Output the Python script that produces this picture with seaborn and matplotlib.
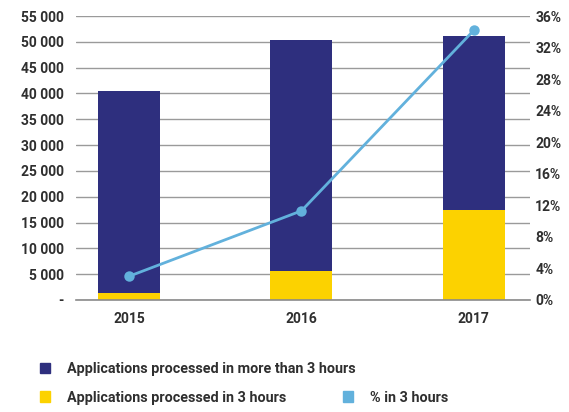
import matplotlib
matplotlib.use("Agg")
import matplotlib.pyplot as plt
from matplotlib.patches import Patch
import seaborn as sns
import pandas as pd

# Data
years = ["2015", "2016", "2017"]
total_apps = [40500, 50400, 51200]
apps_in_3h = [1400, 5600, 17400]
pct_in_3h = [3.0, 11.3, 34.2]

left_ticks = [0, 5000, 10000, 15000, 20000, 25000, 30000, 35000, 40000, 45000, 50000, 55000]
left_labels = ["-", "5 000", "10 000", "15 000", "20 000", "25 000", "30 000",
               "35 000", "40 000", "45 000", "50 000", "55 000"]
right_ticks = [0, 4, 8, 12, 16, 20, 24, 28, 32, 36]
right_labels = [f"{t}%" for t in right_ticks]

navy = "#2e2f7e"
yellow = "#fcd200"
blue = "#62b1dc"
text_col = "#2f2f2f"

df = pd.DataFrame({"year": years, "total": total_apps, "in3": apps_in_3h, "pct": pct_in_3h})

sns.set_style("white")
plt.rcParams["font.family"] = ["Roboto", "DejaVu Sans"]
plt.rcParams["font.weight"] = "semibold"

fig = plt.figure(figsize=(5.69, 4.12), dpi=100)
ax = fig.add_axes([0.134, 0.272, 0.797, 0.689])

# stacked bars: full total in navy, then the 3-hour part in yellow on top of it
sns.barplot(data=df, x="year", y="total", color=navy, width=0.36, ax=ax,
            saturation=1, linewidth=0)
sns.barplot(data=df, x="year", y="in3", color=yellow, width=0.36, ax=ax,
            saturation=1, linewidth=0)

ax.set_ylim(0, 55000)
ax.set_yticks(left_ticks)
ax.set_yticklabels(left_labels)
ax.yaxis.grid(True, color="#9a9a9a", linewidth=1)
ax.set_axisbelow(True)
for s in ["top", "right", "left"]:
    ax.spines[s].set_visible(False)
ax.spines["bottom"].set_color("#8a8a8a")
ax.spines["bottom"].set_linewidth(1.2)
ax.tick_params(axis="y", length=0, pad=9, labelsize=10, labelcolor=text_col)
ax.tick_params(axis="x", length=0, pad=9, labelsize=10, labelcolor=text_col)
ax.set_xlabel("")
ax.set_ylabel("")

# percentage line on the right axis
ax2 = ax.twinx()
sns.pointplot(data=df, x="year", y="pct", color=blue, ax=ax2, markersize=6,
              linewidth=2)
ax2.set_ylim(0, 36)
ax2.set_yticks(right_ticks)
ax2.set_yticklabels(right_labels)
ax2.tick_params(axis="y", length=0, pad=4, labelsize=10, labelcolor=text_col)
ax2.set_ylabel("")
for s in ax2.spines.values():
    s.set_visible(False)
ax2.grid(False)

ax.set_xlim(-0.306, 2.324)
ax2.set_xlim(-0.306, 2.324)

# legend below the chart
leg_kw = dict(frameon=False, handlelength=0.7, handleheight=0.7, handletextpad=1.2,
              fontsize=10.4, labelcolor=text_col, borderaxespad=0)
leg1 = fig.legend(handles=[Patch(color=navy, label="Applications processed in more than 3 hours")],
                  loc="center left", bbox_to_anchor=(0.060, 0.105), **leg_kw)
leg2 = fig.legend(handles=[Patch(color=yellow, label="Applications processed in 3 hours"),
                           Patch(color=blue, label="% in 3 hours")],
                  loc="center left", bbox_to_anchor=(0.060, 0.035), ncol=2,
                  columnspacing=3.9, **leg_kw)

fig.savefig("out.png", dpi=100)
